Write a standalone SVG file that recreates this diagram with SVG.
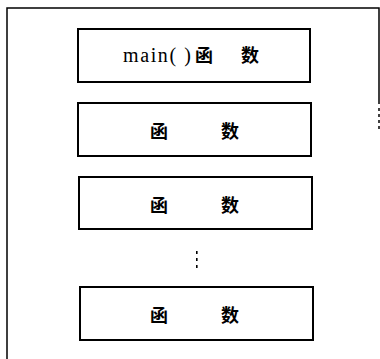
<svg xmlns="http://www.w3.org/2000/svg" width="380" height="359" viewBox="0 0 380 359">
<style>
.frame{fill:none;stroke:#000;stroke-width:1.5}
.box{fill:#fff;stroke:#000;stroke-width:2}
.lbl{font-family:"Liberation Serif","Noto Sans CJK SC",serif;font-size:18px;fill:#000}
.cjk{font-family:"Noto Sans CJK SC","Noto Sans CJK JP",sans-serif;font-weight:bold;font-size:18px}
</style>
<rect width="380" height="359" fill="#fff"/>
<g id="frame">
<path class="frame" d="M7,359 V8 H379 V104"/>
<path class="frame" d="M379,108 V130" stroke-dasharray="3,3"/>
</g>
<g id="main">
<rect class="box" x="78" y="29" width="232" height="53"/>
<text class="lbl" y="62"><tspan x="123" font-size="20" textLength="68">main( )</tspan><tspan class="cjk" x="195">函</tspan><tspan class="cjk" x="241">数</tspan></text>
</g>
<g id="func1">
<rect class="box" x="78" y="103" width="233" height="53"/>
<text class="lbl cjk" y="138"><tspan x="150">函</tspan><tspan x="221">数</tspan></text>
</g>
<g id="func2">
<rect class="box" x="79" y="177" width="233" height="52"/>
<text class="lbl cjk" y="212"><tspan x="150">函</tspan><tspan x="221">数</tspan></text>
</g>
<g id="ellipsis">
<rect x="196" y="251" width="1.6" height="3"/>
<rect x="196" y="258" width="1.6" height="3"/>
<rect x="196" y="265" width="1.6" height="3"/>
</g>
<g id="func3">
<rect class="box" x="80" y="287" width="233" height="53"/>
<text class="lbl cjk" y="322"><tspan x="150">函</tspan><tspan x="221">数</tspan></text>
</g>
<g id="connectors"/>
</svg>
